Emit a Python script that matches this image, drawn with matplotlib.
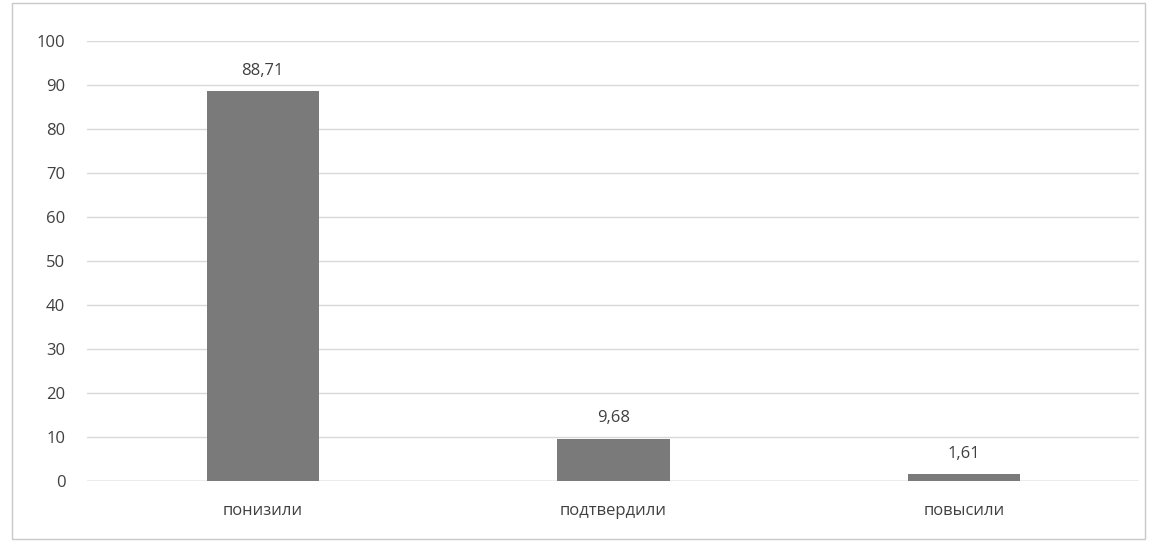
import matplotlib
matplotlib.use("Agg")
import matplotlib.pyplot as plt
from matplotlib.patches import Rectangle

categories = ["понизили", "подтвердили", "повысили"]
values = [88.71, 9.68, 1.61]
labels = ["88,71", "9,68", "1,61"]
yticks = [0, 10, 20, 30, 40, 50, 60, 70, 80, 90, 100]

plt.rcParams['font.family'] = ['Open Sans', 'DejaVu Sans']

fig = plt.figure(figsize=(11.51, 5.5), dpi=100)
ax = fig.add_axes([0.076, 0.125, 0.914, 0.80])
x = range(len(categories))
ax.bar(x, values, width=0.32, color="#7a7a7a", zorder=3)
for xi, v, lab in zip(x, values, labels):
    ax.text(xi, v + 2.8, lab, ha="center", va="bottom", fontsize=12, color="#404040")
ax.set_xlim(-0.5, 2.5)
ax.set_ylim(0, 100)
ax.set_yticks(yticks)
ax.set_xticks(list(x))
ax.set_xticklabels(categories)
ax.tick_params(axis="both", length=0, labelsize=12, colors="#404040")
ax.tick_params(axis="x", pad=16)
ax.tick_params(axis="y", pad=16)
ax.grid(axis="y", color="#d9d9d9", linewidth=1, zorder=0)
for s in ax.spines.values():
    s.set_visible(False)
ax.axhline(0, color="#bfbfbf", linewidth=1, zorder=2)
fig.patches.append(Rectangle((0.01, 0.02), 0.985, 0.975, transform=fig.transFigure,
                             fill=False, edgecolor="#c8c8c8", linewidth=1))
fig.savefig("out.png", dpi=100)
